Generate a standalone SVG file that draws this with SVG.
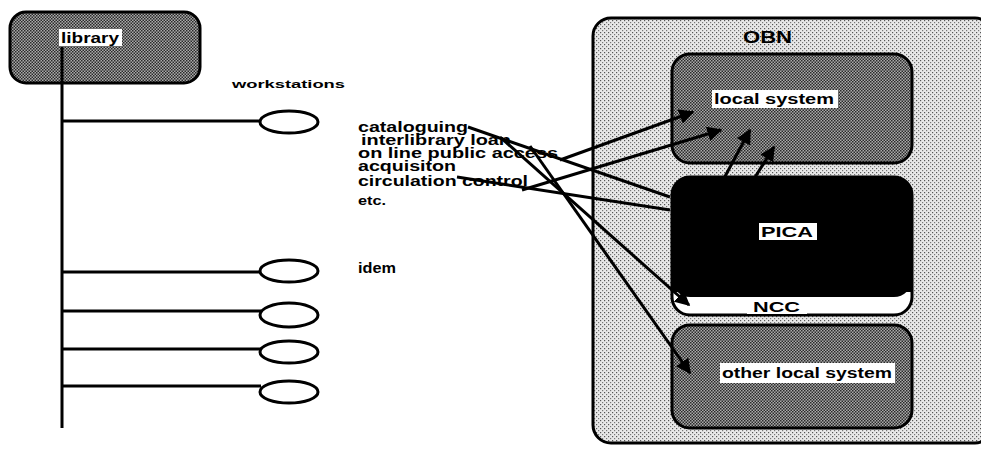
<svg xmlns="http://www.w3.org/2000/svg" width="981" height="450" viewBox="0 0 981 450">
<style>
.t{font-family:"Liberation Sans",Arial,sans-serif;font-weight:bold;fill:#000}
.box{stroke:#000;stroke-width:3}
.ln{stroke:#000;stroke-width:3;fill:none}
.cn{stroke:#000;stroke-width:3;fill:none}
.ar{marker-end:url(#ah)}
.lab{fill:#fff}
</style>
<defs>
<pattern id="dark" width="3" height="3" patternUnits="userSpaceOnUse">
<rect width="3" height="3" fill="#aaa"/>
<rect x="0" y="0" width="1.5" height="1.5" fill="#2a2a2a"/>
<rect x="1.5" y="1.5" width="1.5" height="1.5" fill="#2a2a2a"/>
</pattern>
<pattern id="light" width="4" height="4" patternUnits="userSpaceOnUse">
<rect width="4" height="4" fill="#e8e8e8"/>
<rect x="0" y="0" width="1.2" height="1.2" fill="#555"/>
<rect x="2" y="2" width="1.2" height="1.2" fill="#777"/>
</pattern>
<marker id="ah" viewBox="0 0 10 10" refX="9" refY="5" markerWidth="5" markerHeight="5" orient="auto" markerUnits="strokeWidth">
<path d="M0,0 L10,5 L0,10 z" fill="#000"/>
</marker>
</defs>
<rect width="981" height="450" fill="#fff"/>

<g id="library">
<rect class="box" x="10" y="12" width="190" height="71" rx="16" fill="url(#dark)"/>
<rect class="lab" x="59" y="29" width="63" height="17"/>
<text class="t" x="61" y="43" font-size="15" textLength="58" lengthAdjust="spacingAndGlyphs">library</text>
</g>

<g id="tree">
<line class="ln" x1="62" y1="47" x2="62" y2="428"/>
<line class="ln" x1="62" y1="121" x2="261" y2="121"/>
<line class="ln" x1="62" y1="272" x2="261" y2="272"/>
<line class="ln" x1="62" y1="311" x2="261" y2="311"/>
<line class="ln" x1="62" y1="349" x2="261" y2="349"/>
<line class="ln" x1="62" y1="386" x2="261" y2="386"/>
</g>

<g id="workstations">
<text class="t" x="232" y="88" font-size="11" textLength="113" lengthAdjust="spacingAndGlyphs">workstations</text>
<ellipse class="box" cx="289" cy="122" rx="29" ry="11" fill="#fff"/>
<ellipse class="box" cx="289" cy="271" rx="29" ry="11" fill="#fff"/>
<ellipse class="box" cx="289" cy="315" rx="29" ry="12" fill="#fff"/>
<ellipse class="box" cx="289" cy="352" rx="29" ry="11" fill="#fff"/>
<ellipse class="box" cx="289" cy="392" rx="29" ry="11" fill="#fff"/>
</g>

<g id="functions">
<text class="t" x="358" y="132" font-size="14" textLength="110" lengthAdjust="spacingAndGlyphs">cataloguing</text>
<text class="t" x="361" y="145" font-size="14" textLength="150" lengthAdjust="spacingAndGlyphs">interlibrary loan</text>
<text class="t" x="358" y="158" font-size="14" textLength="200" lengthAdjust="spacingAndGlyphs">on line public access</text>
<text class="t" x="358" y="171" font-size="14" textLength="98" lengthAdjust="spacingAndGlyphs">acquisiton</text>
<text class="t" x="358" y="186" font-size="14" textLength="170" lengthAdjust="spacingAndGlyphs">circulation control</text>
<text class="t" x="358" y="205" font-size="12" textLength="28" lengthAdjust="spacingAndGlyphs">etc.</text>
<text class="t" x="358" y="273" font-size="15" textLength="38" lengthAdjust="spacingAndGlyphs">idem</text>
</g>

<g id="OBN">
<rect class="box" x="593" y="18" width="400" height="425" rx="18" fill="url(#light)"/>
<text class="t" x="743" y="43" font-size="16" textLength="49" lengthAdjust="spacingAndGlyphs">OBN</text>
</g>

<g id="local-system">
<rect class="box" x="672" y="54" width="240" height="109" rx="18" fill="url(#dark)"/>
<rect class="lab" x="712" y="90" width="126" height="18"/>
<text class="t" x="714" y="104" font-size="14" textLength="120" lengthAdjust="spacingAndGlyphs">local system</text>
</g>

<g id="PICA-NCC">
<rect class="box" x="672" y="177" width="240" height="138" rx="18" fill="#fff"/>
<rect x="672" y="177" width="240" height="120" rx="18" fill="#000"/>
<rect x="672" y="270" width="240" height="22" fill="#000"/>
<rect class="lab" x="759" y="223" width="58" height="17"/>
<text class="t" x="761" y="237" font-size="14" textLength="52" lengthAdjust="spacingAndGlyphs">PICA</text>
<rect class="lab" x="747" y="297" width="60" height="17"/>
<text class="t" x="753" y="312" font-size="15" textLength="47" lengthAdjust="spacingAndGlyphs">NCC</text>
</g>

<g id="other-local-system">
<rect class="box" x="672" y="325" width="240" height="103" rx="18" fill="url(#dark)"/>
<rect class="lab" x="720" y="363" width="175" height="20"/>
<text class="t" x="722" y="378" font-size="14" textLength="170" lengthAdjust="spacingAndGlyphs">other local system</text>
</g>

<g id="connectors">
<line class="cn" x1="468" y1="127" x2="670" y2="197"/>
<line class="cn ar" x1="500" y1="137" x2="689" y2="305"/>
<line class="cn ar" x1="530" y1="146" x2="690" y2="373"/>
<line class="cn ar" x1="560" y1="160" x2="693" y2="112"/>
<line class="cn" x1="457" y1="177" x2="670" y2="210"/>
<line class="cn ar" x1="522" y1="190" x2="721" y2="130"/>
<line class="cn ar" x1="722" y1="182" x2="750" y2="130"/>
<line class="cn ar" x1="752" y1="182" x2="774" y2="147"/>
</g>
</svg>
